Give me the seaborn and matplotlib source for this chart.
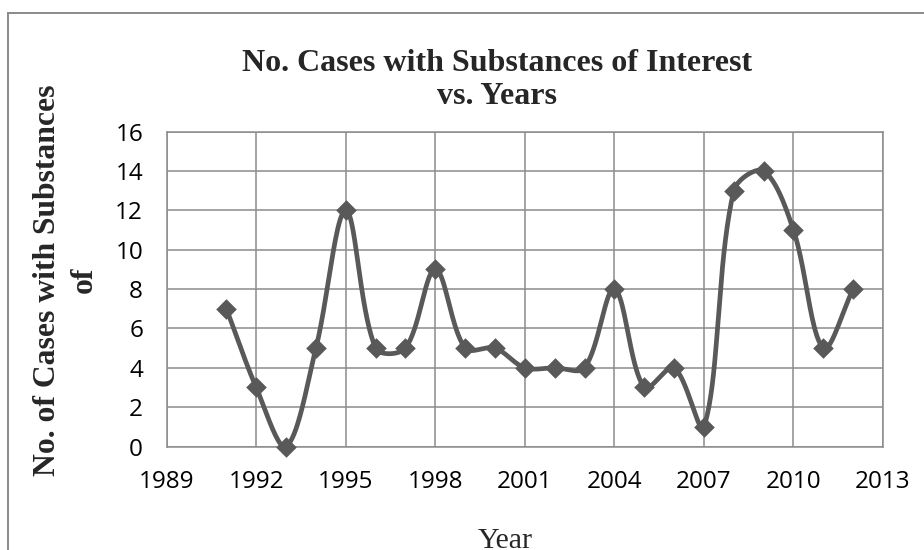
"""
Cases with substances of interest per year, smoothed line chart (Excel style).
"""
import numpy as np
import pandas as pd
import matplotlib
matplotlib.use('Agg')
import matplotlib.pyplot as plt
import seaborn as sns
from matplotlib.patches import Rectangle

years = [1991, 1992, 1993, 1994, 1995, 1996, 1997, 1998, 1999, 2000, 2001,
         2002, 2003, 2004, 2005, 2006, 2007, 2008, 2009, 2010, 2011, 2012]
cases = [7, 3, 0, 5, 12, 5, 5, 9, 5, 5, 4,
         4, 4, 8, 3, 4, 1, 13, 14, 11, 5, 8]

x_ticks = [1989, 1992, 1995, 1998, 2001, 2004, 2007, 2010, 2013]
y_ticks = [0, 2, 4, 6, 8, 10, 12, 14, 16]

title = 'No. Cases with Substances of Interest\nvs. Years'
x_label = 'Year'
y_label = 'No. of Cases with Substances\nof'

line_color = '#595959'
grid_color = '#8c8c8c'


def smooth_curve(x, y, sx=29.9, sy=19.66, steps=40):
    """Bezier through every point, handles scaled by chord length (close to Excel's smoothing).
    sx, sy: pixels per data unit, used to measure the chords on screen."""
    p = np.column_stack([x, y]).astype(float)
    p = np.vstack([p[0], p, p[-1]])
    scale = np.array([sx, sy])
    t = np.linspace(0, 1, steps)[:, None]
    out = []
    for i in range(1, len(p) - 2):
        p0, p1, p2, p3 = p[i - 1], p[i], p[i + 1], p[i + 2]
        d01 = np.hypot(*((p1 - p0) * scale))
        d12 = np.hypot(*((p2 - p1) * scale))
        d23 = np.hypot(*((p3 - p2) * scale))
        c1 = p1 + (p2 - p0) * d12 / (d01 + d12) / 3
        c2 = p2 - (p3 - p1) * d12 / (d12 + d23) / 3
        seg = ((1 - t) ** 3) * p1 + 3 * ((1 - t) ** 2) * t * c1 + 3 * (1 - t) * t ** 2 * c2 + t ** 3 * p2
        out.append(seg if i == 1 else seg[1:])
    return np.vstack(out)


sns.set_style('white')
plt.rcParams['font.family'] = ['Open Sans', 'DejaVu Sans']

df = pd.DataFrame({'year': years, 'cases': cases})
curve = smooth_curve(df['year'].values, df['cases'].values)
curve_df = pd.DataFrame({'year': curve[:, 0], 'cases': curve[:, 1]})

fig = plt.figure(figsize=(9.24, 5.5), dpi=100)
ax = fig.add_axes([166.7 / 924, 1 - 446.5 / 550, (883 - 166.7) / 924, (446.5 - 131.7) / 550])

sns.lineplot(data=curve_df, x='year', y='cases', sort=False, estimator=None,
             color=line_color, linewidth=3.4, ax=ax, clip_on=False, zorder=3)
sns.scatterplot(data=df, x='year', y='cases', marker='D', s=110, color=line_color,
                edgecolor=line_color, linewidth=0, ax=ax, clip_on=False, zorder=4)

ax.set_xlim(x_ticks[0], x_ticks[-1])
ax.set_ylim(y_ticks[0], y_ticks[-1])
ax.set_xticks(x_ticks)
ax.set_yticks(y_ticks)
ax.grid(True, color=grid_color, linewidth=1.1)
ax.set_axisbelow(True)
for sp in ax.spines.values():
    sp.set_visible(True)
    sp.set_color(grid_color)
    sp.set_linewidth(1.1)
ax.tick_params(axis='both', length=0, labelsize=17.5, colors='black')
ax.tick_params(axis='x', pad=17)
ax.tick_params(axis='y', pad=17)

ax.set_xlabel('')
ax.set_ylabel('')
fig.text(505 / 924, 1 - 541 / 550, x_label, family='Liberation Serif', fontsize=21.5,
         ha='center', va='center')
fig.text(66 / 924, 1 - 280 / 550, y_label, family='Liberation Serif', fontsize=22.8,
         fontweight='bold', rotation=90, ha='center', va='center',
         multialignment='center', linespacing=1.35)
fig.text(497 / 924, 1 - 80 / 550, title, family='Liberation Serif', fontsize=23,
         fontweight='bold', ha='center', va='center', linespacing=1.2)

# chart area border (left and top edges visible)
fig.patches.append(Rectangle((8 / 924, -0.2), 1.2, 1.2 - 13 / 550, transform=fig.transFigure,
                             fill=False, edgecolor='#8a8a8a', linewidth=1.4, clip_on=False))

fig.savefig('out.png', dpi=100)
